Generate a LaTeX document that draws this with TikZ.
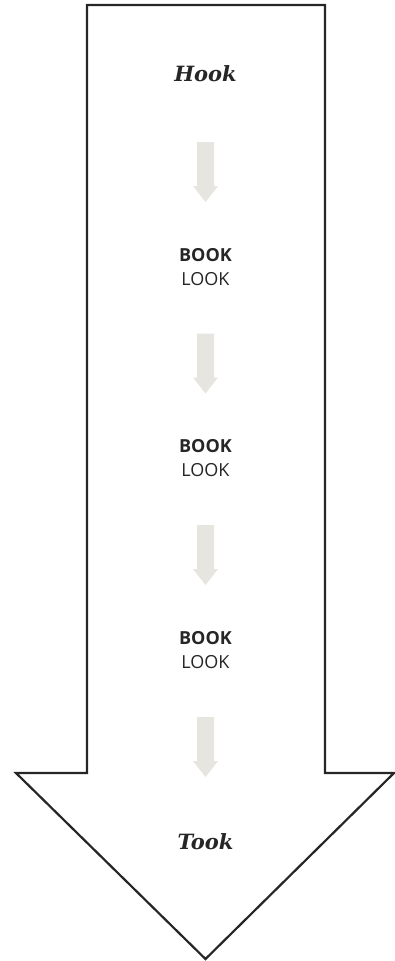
\documentclass[tikz,border=0pt]{standalone}
\usepackage{fontspec}
\setmainfont{DejaVu Serif}
\newfontfamily\opensans{Open Sans}
\begin{document}
\begin{tikzpicture}[x=1pt,y=-1pt,
  bigarrow/.style={draw=black!85,line width=2.2pt,fill=white,line join=miter},
  titletext/.style={font=\fontsize{21}{25}\selectfont\bfseries\itshape,text=black!85},
  steptext/.style={font=\opensans\fontsize{18}{24}\selectfont,text=black!85,align=center}]
\useasboundingbox (0,0) rectangle (395,961);
\draw[bigarrow] (87,5) -- (325,5) -- (325,773) -- (394,773) -- (205.5,959) -- (16,773) -- (87,773) -- cycle;
\foreach \t in {142,333.5,525,717}{
  \fill[fill={rgb,255:red,230;green,229;blue,223}] (197,\t) -- (214,\t) -- (214,\t+44) -- (218,\t+44) -- (205.5,\t+60) -- (193,\t+44) -- (197,\t+44) -- cycle;
}
\node[titletext] (hook) at (205.5,74) {Hook};
\node[steptext] (s1) at (205.5,267) {\textbf{BOOK}\\LOOK};
\node[steptext] (s2) at (205.5,458) {\textbf{BOOK}\\LOOK};
\node[steptext] (s3) at (205.5,650) {\textbf{BOOK}\\LOOK};
\node[titletext] (took) at (205.5,842) {Took};
\end{tikzpicture}
\end{document}
